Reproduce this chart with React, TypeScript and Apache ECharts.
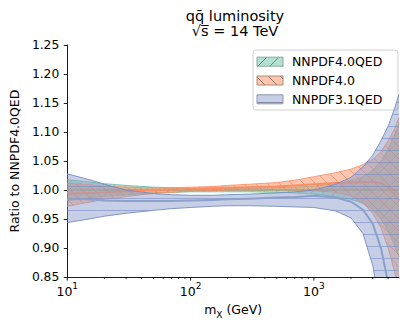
import React, { useEffect, useRef } from 'react';
import * as echarts from 'echarts';

// ---- data ----
const massGeV = [10, 15, 20, 30, 50, 70, 100, 150, 200, 300, 500, 700, 1000, 1500, 2000, 2500, 3000, 3500, 4000, 4500, 4900];

const qedLower = [0.982, 0.986, 0.989, 0.992, 0.995, 0.996, 0.997, 0.997, 0.997, 0.997, 0.996, 0.995, 0.993, 0.989, 0.984, 0.977, 0.966, 0.95, 0.93, 0.905, 0.885];
const qedCentral = [1, 1, 1, 1, 1, 1, 1, 1, 1, 1, 1, 1, 1, 1, 1, 1, 1, 1, 1, 1, 1];
const qedUpper = [1.018, 1.014, 1.011, 1.008, 1.005, 1.004, 1.003, 1.003, 1.003, 1.003, 1.004, 1.005, 1.007, 1.011, 1.016, 1.023, 1.034, 1.05, 1.07, 1.095, 1.115];

const nnpdf40Lower = [0.972, 0.979, 0.984, 0.989, 0.994, 0.996, 0.998, 0.999, 1.0, 1.0, 1.0, 1.0, 0.999, 0.996, 0.99, 0.978, 0.96, 0.935, 0.9, 0.86, 0.83];
const nnpdf40Central = [0.994, 0.995, 0.996, 0.998, 1.0, 1.001, 1.002, 1.003, 1.004, 1.005, 1.006, 1.008, 1.01, 1.012, 1.013, 1.014, 1.014, 1.012, 1.005, 0.993, 0.982];
const nnpdf40Upper = [1.012, 1.009, 1.007, 1.005, 1.004, 1.004, 1.005, 1.006, 1.008, 1.01, 1.013, 1.017, 1.023, 1.03, 1.036, 1.044, 1.053, 1.066, 1.085, 1.105, 1.125];

const nnpdf31Lower = [0.944, 0.95, 0.955, 0.96, 0.965, 0.968, 0.97, 0.972, 0.973, 0.973, 0.972, 0.971, 0.97, 0.964, 0.952, 0.925, 0.87, 0.79, 0.7, 0.62, 0.56];
const nnpdf31Central = [0.985, 0.984, 0.982, 0.981, 0.981, 0.981, 0.982, 0.983, 0.984, 0.985, 0.987, 0.988, 0.99, 0.987, 0.98, 0.966, 0.942, 0.9, 0.84, 0.76, 0.7];
const nnpdf31Upper = [1.028, 1.018, 1.01, 1.0, 0.994, 0.992, 0.991, 0.991, 0.992, 0.993, 0.995, 0.997, 1.0, 1.01, 1.022, 1.04, 1.06, 1.085, 1.11, 1.14, 1.165];

const seriesNames = ['NNPDF4.0QED', 'NNPDF4.0', 'NNPDF3.1QED'];
const majorTickMasses = [10, 100, 1000];
const minorTickMasses = [20, 30, 40, 50, 60, 70, 80, 90, 200, 300, 400, 500, 600, 700, 800, 900, 2000, 3000, 4000];
const yMin = 0.85;
const yMax = 1.25;
const yStep = 0.05;
const xMaxMass = 4900;

const titleLines = ['q\u0071\u0304 luminosity', '\u221As\u0305 = 14 TeV'];
const yAxisTitle = 'Ratio to NNPDF4.0QED';

const FONT = 'DejaVu Sans';

const styles = [
  { fill: 'rgba(102,194,165,0.5)', edge: 'rgba(102,194,165,0.85)', line: '#66c2a5', hatch: '/', hatchColor: 'rgba(80,160,135,0.45)', legendHatch: 'rgba(70,120,105,0.8)', legendEdge: '#8aa89d' },
  { fill: 'rgba(252,141,98,0.5)', edge: 'rgba(252,141,98,0.85)', line: '#fc8d62', hatch: '\\', hatchColor: 'rgba(225,110,70,0.5)', legendHatch: 'rgba(140,90,75,0.8)', legendEdge: '#b08a7d' },
  { fill: 'rgba(141,160,203,0.5)', edge: 'rgba(120,140,195,0.9)', line: '#8da0cb', hatch: '-', hatchColor: 'rgba(120,140,195,0.6)', legendHatch: 'rgba(110,120,150,0.8)', legendEdge: '#8f97aa' },
];

function makeHatch(kind: string, color: string) {
  const s = 12;
  const c = document.createElement('canvas');
  c.width = s;
  c.height = s;
  const ctx = c.getContext('2d')!;
  ctx.strokeStyle = color;
  ctx.lineWidth = 1;
  ctx.beginPath();
  if (kind === '/') {
    ctx.moveTo(-2, s + 2); ctx.lineTo(s + 2, -2);
    ctx.moveTo(-2, 2); ctx.lineTo(2, -2);
    ctx.moveTo(s - 2, s + 2); ctx.lineTo(s + 2, s - 2);
  } else if (kind === '\\') {
    ctx.moveTo(-2, -2); ctx.lineTo(s + 2, s + 2);
    ctx.moveTo(s - 2, -2); ctx.lineTo(s + 2, 2);
    ctx.moveTo(-2, s - 2); ctx.lineTo(2, s + 2);
  } else {
    ctx.moveTo(0, s / 2 + 0.5); ctx.lineTo(s, s / 2 + 0.5);
  }
  ctx.stroke();
  return { image: c, repeat: 'repeat', imageWidth: s, imageHeight: s };
}

export default function App() {
  const ref = useRef<HTMLDivElement>(null);

  useEffect(() => {
    if (!ref.current) return;
    const chart = echarts.init(ref.current, null, { renderer: 'svg' });
    const xs = massGeV.map((m) => Math.log10(m));
    const bands = [
      [qedLower, qedCentral, qedUpper],
      [nnpdf40Lower, nnpdf40Central, nnpdf40Upper],
      [nnpdf31Lower, nnpdf31Central, nnpdf31Upper],
    ];
    const patterns = styles.map((s) => makeHatch(s.hatch, s.hatchColor));
    const legendPatterns = styles.map((s) => makeHatch(s.hatch, s.legendHatch));

    const bandSeries = bands.map((b, idx) => {
      const [lo, ce, up] = b;
      const st = styles[idx];
      return {
        type: 'custom',
        name: seriesNames[idx],
        coordinateSystem: 'cartesian2d',
        clip: true,
        silent: true,
        z: 2 + idx,
        data: [[xs[0], ce[0]]],
        encode: { x: 0, y: 1 },
        renderItem: (params: any, api: any) => {
          const upP = xs.map((x, i) => api.coord([x, up[i]]));
          const loP = xs.map((x, i) => api.coord([x, lo[i]]));
          const ceP = xs.map((x, i) => api.coord([x, ce[i]]));
          const poly = upP.concat(loP.slice().reverse());
          return {
            type: 'group',
            children: [
              { type: 'polygon', shape: { points: poly }, style: { fill: st.fill } },
              { type: 'polygon', shape: { points: poly }, style: { fill: patterns[idx] } },
              { type: 'polyline', shape: { points: upP }, style: { stroke: st.edge, lineWidth: 1, fill: 'none' } },
              { type: 'polyline', shape: { points: loP }, style: { stroke: st.edge, lineWidth: 1, fill: 'none' } },
              { type: 'polyline', shape: { points: ceP }, style: { stroke: st.line, lineWidth: 2, fill: 'none' } },
            ],
          };
        },
      };
    });

    const tickData = [
      ...majorTickMasses.map((m) => [Math.log10(m), 1]),
      ...minorTickMasses.map((m) => [Math.log10(m), 0]),
    ];

    const tickSeries = {
      type: 'custom',
      coordinateSystem: 'cartesian2d',
      clip: false,
      silent: true,
      z: 10,
      data: tickData,
      encode: { x: 0 },
      renderItem: (params: any, api: any) => {
        const p = api.coord([api.value(0), yMin]);
        const len = api.value(1) === 1 ? 3.5 : 2;
        return {
          type: 'line',
          shape: { x1: p[0], y1: p[1], x2: p[0], y2: p[1] + len },
          style: { stroke: '#000', lineWidth: api.value(1) === 1 ? 0.9 : 0.7 },
        };
      },
    };

    // legend built from series names
    const legendX = 253;
    const legendY = 50;
    const rowH = 18.8;
    const legendChildren: any[] = [
      {
        type: 'rect',
        shape: { x: legendX, y: legendY, width: 145, height: 60, r: 3 },
        style: { fill: 'rgba(255,255,255,0.85)', stroke: '#d0d0d0', lineWidth: 1 },
      },
    ];
    seriesNames.forEach((name, i) => {
      const cy = legendY + 11.7 + i * rowH;
      legendChildren.push({
        type: 'rect',
        shape: { x: 257, y: cy - 4.5, width: 26, height: 9 },
        style: { fill: styles[i].fill, stroke: 'none' },
      });
      legendChildren.push({
        type: 'rect',
        shape: { x: 257, y: cy - 4.5, width: 26, height: 9 },
        style: { fill: legendPatterns[i], stroke: styles[i].legendEdge, lineWidth: 1 },
      });
      legendChildren.push({
        type: 'text',
        x: 292,
        y: cy,
        style: { text: name, fontFamily: FONT, fontSize: 12.5, fill: '#000', verticalAlign: 'middle', align: 'left' },
      });
    });

    const option: any = {
      animation: false,
      backgroundColor: '#fff',
      title: {
        text: titleLines[0],
        subtext: titleLines[1],
        left: 230,
        top: 3,
        itemGap: 0,
        textAlign: 'center',
        textStyle: { fontFamily: FONT, fontSize: 14.5, fontWeight: 'normal', color: '#000', lineHeight: 15 },
        subtextStyle: { fontFamily: FONT, fontSize: 14.5, fontWeight: 'normal', color: '#000', lineHeight: 15 },
      },
      grid: { left: 61, right: 8, top: 45, bottom: 46, containLabel: false },
      xAxis: {
        type: 'value',
        min: 1,
        max: Math.log10(xMaxMass),
        interval: 1,
        axisLine: { show: true, lineStyle: { color: '#000', width: 0.9 } },
        axisTick: { show: false },
        splitLine: { show: false },
        axisLabel: {
          margin: 4,
          color: '#000',
          formatter: (v: number) => (Math.abs(v - Math.round(v)) < 1e-9 ? `{b|10}{s|${Math.round(v)}}` : ''),
          rich: {
            b: { fontFamily: FONT, fontSize: 12.5, color: '#000', lineHeight: 17, verticalAlign: 'bottom' },
            s: { fontFamily: FONT, fontSize: 9, color: '#000', lineHeight: 8, verticalAlign: 'top' },
          },
        },
        name: '{a|m}{sub|X}{a| (GeV)}',
        nameLocation: 'middle',
        nameGap: 23,
        nameTextStyle: {
          rich: {
            a: { fontFamily: FONT, fontSize: 12.5, color: '#000', lineHeight: 16, verticalAlign: 'top' },
            sub: { fontFamily: FONT, fontSize: 9, color: '#000', lineHeight: 10, verticalAlign: 'bottom' },
          },
        },
      },
      yAxis: {
        type: 'value',
        min: yMin,
        max: yMax,
        interval: yStep,
        axisLine: { show: true, lineStyle: { color: '#000', width: 0.9 } },
        axisTick: { show: true, length: 3.5, lineStyle: { color: '#000', width: 0.9 } },
        splitLine: { show: false },
        axisLabel: {
          margin: 8,
          color: '#000',
          fontFamily: FONT,
          fontSize: 12.3,
          formatter: (v: number) => v.toFixed(2),
        },
        name: yAxisTitle,
        nameLocation: 'middle',
        nameGap: 40,
        nameTextStyle: { fontFamily: FONT, fontSize: 12.5, color: '#000' },
      },
      graphic: [{ type: 'group', z: 100, children: legendChildren }],
      series: [...bandSeries, tickSeries],
    };
    chart.setOption(option);
    return () => chart.dispose();
  }, []);

  return <div ref={ref} style={{ position: 'fixed', left: 0, top: 0, width: 407, height: 324 }} />;
}
